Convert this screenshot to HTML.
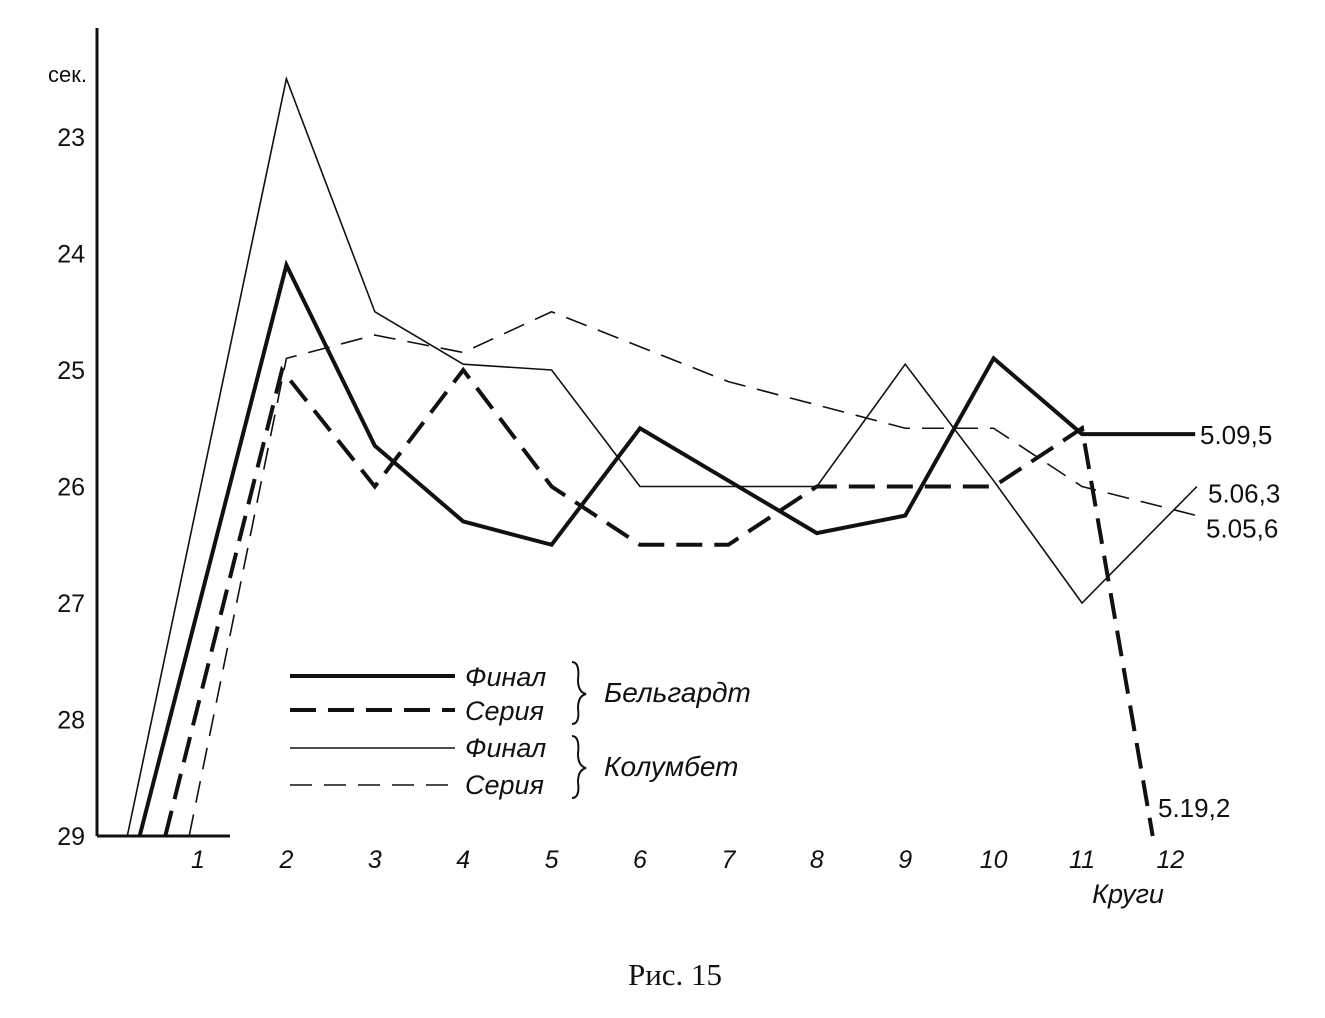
<!DOCTYPE html>
<html><head><meta charset="utf-8"><style>
body{margin:0;background:#fff}
svg{display:block}
text{font-family:"Liberation Sans","DejaVu Sans",sans-serif;fill:#111}
</style></head><body>
<svg id="c" width="1325" height="1018" viewBox="0 0 1325 1018">
<g id="axes"></g>
<g id="series"></g>
<g id="legend">
<line x1="290" y1="676" x2="455" y2="676" stroke="#111" stroke-width="4"/>
<text x="465" y="686" font-size="27" font-style="italic">Финал</text>
<line x1="290" y1="710" x2="455" y2="710" stroke="#111" stroke-width="4" stroke-dasharray="26,12"/>
<text x="465" y="720" font-size="27" font-style="italic">Серия</text>
<path d="M572 662 Q580 662 578 680 Q578 692 586 694 Q578 696 578 708 Q580 724 572 724" fill="none" stroke="#111" stroke-width="2"/>
<text x="604" y="702" font-size="28" font-style="italic">Бельгардт</text>
<line x1="290" y1="748" x2="455" y2="748" stroke="#111" stroke-width="1.5"/>
<text x="465" y="757" font-size="27" font-style="italic">Финал</text>
<line x1="290" y1="785" x2="455" y2="785" stroke="#111" stroke-width="1.5" stroke-dasharray="22,12"/>
<text x="465" y="794" font-size="27" font-style="italic">Серия</text>
<path d="M572 736 Q580 736 578 754 Q578 766 586 768 Q578 770 578 782 Q580 798 572 798" fill="none" stroke="#111" stroke-width="2"/>
<text x="604" y="776" font-size="28" font-style="italic">Колумбет</text>
</g>
<text x="675" y="985" font-size="31" text-anchor="middle" style="font-family:'Liberation Serif',serif">Рис. 15</text>
</svg>
<script>
const yTicks=[23,24,25,26,27,28,29];
const xTicks=[1,2,3,4,5,6,7,8,9,10,11,12];
const belFinalLaps=[0.34,2,3,4,5,6,7,8,9,10,11,12.28];
const belFinalVals=[29,24.1,25.65,26.3,26.5,25.5,25.95,26.4,26.25,24.9,25.55,25.55];
const belSeriesLaps=[0.63,1.95,3,4,5,6,7,8,9,10,11,11.8];
const belSeriesVals=[29,25.0,26.0,25.0,26.0,26.5,26.5,26.0,26.0,26.0,25.5,29];
const kolFinalLaps=[0.2,2,3,4,5,6,7,8,9,10,11,12.3];
const kolFinalVals=[29,22.5,24.5,24.95,25.0,26.0,26.0,26.0,24.95,25.95,27.0,26.0];
const kolSeriesLaps=[0.9,2,3,4,5,6,7,8,9,10,11,12.3];
const kolSeriesVals=[29,24.9,24.7,24.85,24.5,24.8,25.1,25.3,25.5,25.5,26.0,26.25];
const endLabels=["5.09,5","5.06,3","5.05,6","5.19,2"];
const ns="http://www.w3.org/2000/svg";
function X(l){return 198+(l-1)*88.4;}
function Y(v){return 137+(v-23)*116.5;}
function mk(tag,attrs,parent,txt){const e=document.createElementNS(ns,tag);for(const k in attrs)e.setAttribute(k,attrs[k]);if(txt!==undefined)e.textContent=txt;parent.appendChild(e);return e;}
const ax=document.getElementById('axes');
let e=mk('line',{x1:97,y1:28,x2:97,y2:Y(29),stroke:'#111','stroke-width':3},ax);


e=mk('line',{x1:97,y1:Y(29),x2:230,y2:Y(29),stroke:'#111','stroke-width':3},ax);


e=mk('text',{x:48,y:82,'font-size':22},ax,'сек.');


yTicks.forEach(t=>{const el=mk('text',{x:85,y:Y(t)+9,'font-size':25,'text-anchor':'end'},ax,String(t));

});
xTicks.forEach(t=>{const el=mk('text',{x:X(t),y:868,'font-size':25,'font-style':'italic','text-anchor':'middle'},ax,String(t));

});
e=mk('text',{x:1128,y:903,'font-size':27,'font-style':'italic','text-anchor':'middle'},ax,'Круги');


const sg=document.getElementById('series');
function line(laps,vals,w,dash,name){const pts=laps.map((l,i)=>X(l)+','+Y(vals[i])).join(' ');
const p=mk('polyline',{points:pts,fill:'none',stroke:'#111','stroke-width':w,'stroke-linejoin':'miter'},sg);
if(dash)p.setAttribute('stroke-dasharray',dash);

}
line(kolFinalLaps,kolFinalVals,1.6,null,'kolumbet-final-line');
line(kolSeriesLaps,kolSeriesVals,1.6,'22,12','kolumbet-series-line');
line(belFinalLaps,belFinalVals,4,null,'belgardt-final-line');
line(belSeriesLaps,belSeriesVals,4,'26,12','belgardt-series-line');
const lp=[[1200,Y(25.55)+10],[1208,Y(26.05)+10],[1206,Y(26.35)+10],[1158,Y(28.75)+10]];
endLabels.forEach((t,i)=>{const el=mk('text',{x:lp[i][0],y:lp[i][1],'font-size':26},sg,t);

});
</script>
</body></html>
